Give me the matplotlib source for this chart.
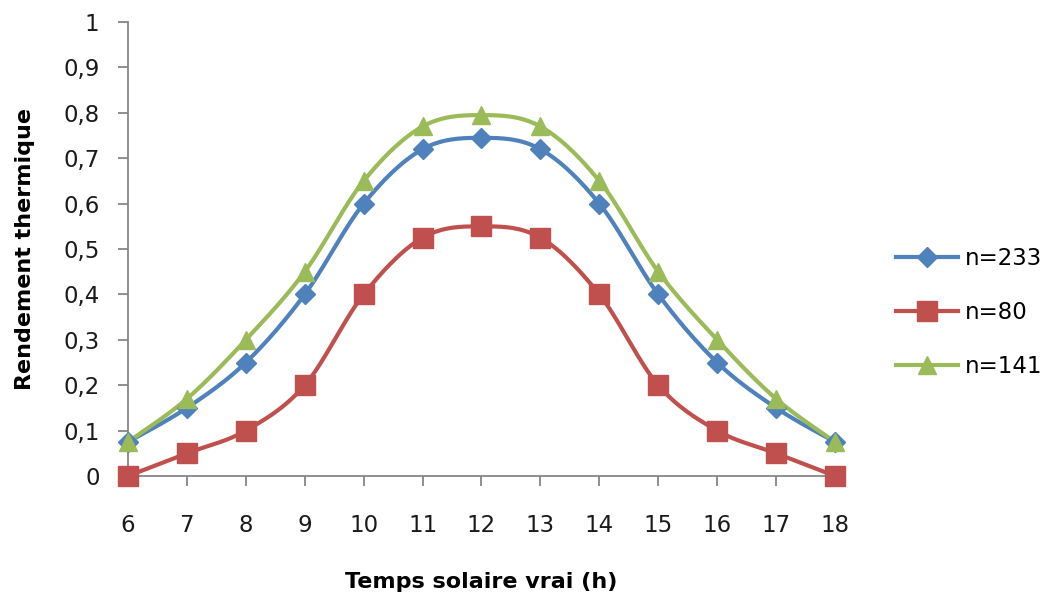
import numpy as np
import matplotlib
matplotlib.use('Agg')
import matplotlib.pyplot as plt
from matplotlib.ticker import FuncFormatter

# ── data ─────────────────────────────────────────────────────────────────────
hours = [6, 7, 8, 9, 10, 11, 12, 13, 14, 15, 16, 17, 18]
eff_233 = [0.075, 0.15, 0.25, 0.40, 0.60, 0.72, 0.745, 0.72, 0.60, 0.40, 0.25, 0.15, 0.075]
eff_80 = [0.0, 0.05, 0.10, 0.20, 0.40, 0.525, 0.55, 0.525, 0.40, 0.20, 0.10, 0.05, 0.0]
eff_141 = [0.075, 0.17, 0.30, 0.45, 0.65, 0.77, 0.795, 0.77, 0.65, 0.45, 0.30, 0.17, 0.075]
labels = ['n=233', 'n=80', 'n=141']


def smooth(x, y, n=30):
    """Bezier smoothing through every point (control points from neighbours)."""
    x = np.asarray(x, float)
    y = np.asarray(y, float)
    px = np.concatenate([[x[0]], x, [x[-1]]])
    py = np.concatenate([[y[0]], y, [y[-1]]])
    t = np.linspace(0, 1, n)[:, None]
    xs, ys = [], []
    for i in range(len(x) - 1):
        p0 = np.array([x[i], y[i]])
        p3 = np.array([x[i + 1], y[i + 1]])
        p1 = p0 + (np.array([px[i + 2], py[i + 2]]) - np.array([px[i], py[i]])) / 6
        p2 = p3 - (np.array([px[i + 3], py[i + 3]]) - np.array([px[i + 1], py[i + 1]])) / 6
        seg = ((1 - t) ** 3) * p0 + 3 * ((1 - t) ** 2) * t * p1 + 3 * (1 - t) * t ** 2 * p2 + t ** 3 * p3
        xs.append(seg[:, 0])
        ys.append(seg[:, 1])
    return np.concatenate(xs), np.concatenate(ys)


series = [
    (eff_233, '#4F81BD', 'D', 10),
    (eff_80, '#C0504D', 's', 14.5),
    (eff_141, '#9BBB59', '^', 13),
]

fig = plt.figure(figsize=(10.49, 5.97), dpi=100)
ax = fig.add_axes([0.122, 0.2027, 0.674, 0.7603])

handles = []
for (vals, col, mk, ms), lab in zip(series, labels):
    sx, sy = smooth(hours, vals)
    ax.plot(sx, sy, color=col, linewidth=3, solid_capstyle='round', zorder=2)
    ax.plot(hours, vals, linestyle='none', marker=mk, markersize=ms,
            color=col, markeredgecolor=col, zorder=3, clip_on=False)
    # legend proxy: line + marker
    h, = ax.plot([], [], color=col, linewidth=3, marker=mk, markersize=ms,
                 markeredgecolor=col, label=lab)
    handles.append(h)

ax.set_xlim(6, 18)
ax.set_ylim(0, 1)
ax.set_xticks(hours)
ax.set_yticks(np.arange(0, 1.01, 0.1))
ax.yaxis.set_major_formatter(FuncFormatter(lambda v, p: ('%g' % round(v, 1)).replace('.', ',')))

for s in ['top', 'right']:
    ax.spines[s].set_visible(False)
for s in ['left', 'bottom']:
    ax.spines[s].set_color('#868686')
    ax.spines[s].set_linewidth(1.3)
ax.tick_params(axis='both', direction='out', length=7.5, width=1.3, color='#868686',
               labelsize=16.5, labelcolor='#1a1a1a')
ax.tick_params(axis='x', pad=20)
ax.tick_params(axis='y', pad=13)

ax.set_xlabel('Temps solaire vrai (h)', fontsize=16, fontweight='bold', labelpad=25)
ax.set_ylabel('Rendement thermique', fontsize=16, fontweight='bold', labelpad=20)

fig.legend(handles=handles, loc='center left', bbox_to_anchor=(0.854, 0.476),
           frameon=False, fontsize=16.5, handlelength=2.7, labelspacing=1.35,
           handletextpad=0.3, borderpad=0, borderaxespad=0)

fig.savefig('out.png', dpi=100)
